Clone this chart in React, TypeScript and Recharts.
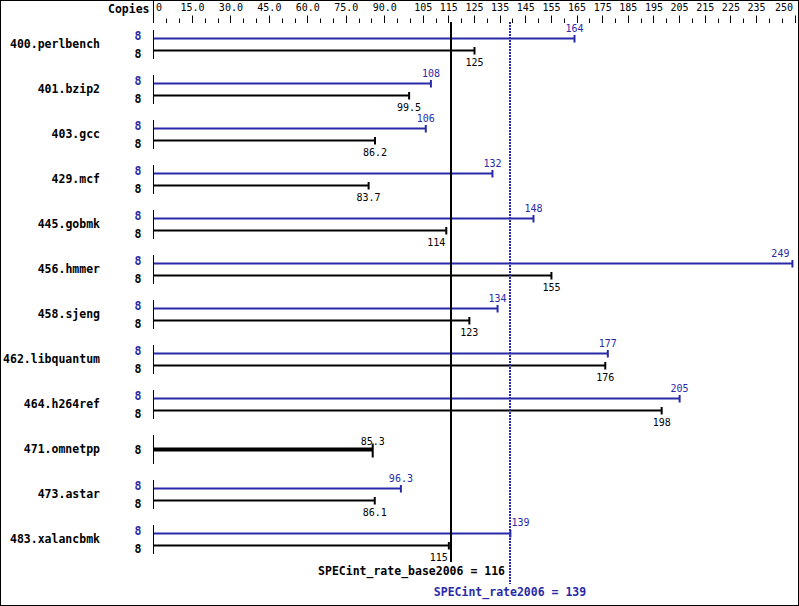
import { Bar, ComposedChart, ReferenceLine, XAxis, YAxis } from "recharts"

const benchmarks = [
  "400.perlbench",
  "401.bzip2",
  "403.gcc",
  "429.mcf",
  "445.gobmk",
  "456.hmmer",
  "458.sjeng",
  "462.libquantum",
  "464.h264ref",
  "471.omnetpp",
  "473.astar",
  "483.xalancbmk",
]
const peakRates = [164, 108, 106, 132, 148, 249, 134, 177, 205, 85.3, 96.3, 139]
const baseRates = [125, 99.5, 86.2, 83.7, 114, 155, 123, 176, 198, 85.3, 86.1, 115]
const peakCopies = [8, 8, 8, 8, 8, 8, 8, 8, 8, 8, 8, 8]
const baseCopies = [8, 8, 8, 8, 8, 8, 8, 8, 8, 8, 8, 8]
const labeledTicks = [0, 15, 30, 45, 60, 75, 90, 105, 115, 125, 135, 145, 155, 165, 175, 185, 195, 205, 215, 225, 235, 250]
const peakMean = 139
const baseMean = 116
const axisMax = 250

const BLUE = "#2a2aa8"
const MONO = "'DejaVu Sans Mono', monospace"

const allTicks = Array.from({ length: 51 }, (_, i) => i * 5)

const data = benchmarks.map((name, i) => ({
  name,
  peak: peakRates[i],
  base: baseRates[i],
  peakCopies: peakCopies[i],
  baseCopies: baseCopies[i],
}))

const fmt = (v: number) => (v >= 100 ? String(Math.round(v)) : v.toFixed(1))
const tickFmt = (v: number) => (v === 0 ? "0" : v < 100 ? v.toFixed(1) : String(v))

function TopTick(props: any) {
  const { x, payload, index } = props
  const v = payload.value as number
  const px = Math.floor(x) + 0.5
  const labeled = labeledTicks.includes(v)
  const last = index === allTicks.length - 1
  return (
    <g>
      {v === 0 ? (
        <>
          <line x1={px - 1} x2={px - 1} y1={0} y2={23} stroke="#000" />
          <text x={px - 5} y={9} dy="0.35em" textAnchor="end" fontFamily={MONO} fontSize={11.5} fontWeight="bold" fill="#000">
            Copies
          </text>
        </>
      ) : (
        <line x1={px} x2={px} y1={labeled ? 15.5 : 18.5} y2={23} stroke="#000" />
      )}
      {labeled && (
        <text
          x={v === 0 ? x + 2 : last ? x - 2 : x}
          y={7}
          dy="0.35em"
          textAnchor={v === 0 ? "start" : last ? "end" : "middle"}
          fontFamily={MONO}
          fontSize={10}
          fill="#000"
        >
          {tickFmt(v)}
        </text>
      )}
    </g>
  )
}

function NameTick(props: any) {
  const { y, payload } = props
  return (
    <text x={100} y={y} dy="0.35em" textAnchor="end" fontFamily={MONO} fontSize={11.5} fontWeight="bold" fill="#000">
      {payload.value}
    </text>
  )
}

function PeakShape(props: any) {
  const { x, y, width, height, payload } = props
  if (payload.peak === payload.base) return <g />
  const ly = y + height / 2
  const end = x + width
  const nearMean = Math.abs(payload.peak - peakMean) < 3
  const nearEdge = payload.peak > axisMax - 5
  const anchor = nearMean ? "start" : nearEdge ? "end" : "middle"
  const lx = nearMean ? end + 1 : nearEdge ? end - 3 : end
  return (
    <g>
      <line x1={x} x2={end} y1={ly} y2={ly} stroke={BLUE} strokeWidth={2} />
      <line x1={end} x2={end} y1={ly - 3.5} y2={ly + 4} stroke={BLUE} strokeWidth={2} />
      <text x={lx} y={ly - (nearMean ? 11 : 10.5)} dy="0.35em" textAnchor={anchor} fontFamily={MONO} fontSize={10} fill={BLUE}>
        {fmt(payload.peak)}
      </text>
      <text x={x - 16} y={ly - 3} dy="0.35em" textAnchor="middle" fontFamily={MONO} fontSize={11.5} fontWeight="bold" fill={BLUE}>
        {payload.peakCopies}
      </text>
    </g>
  )
}

function BaseShape(props: any) {
  const { x, y, width, height, payload } = props
  const end = x + width
  const single = payload.peak === payload.base
  const startLine = <line x1={x - 0.5} x2={x - 0.5} y1={y - 14.5} y2={y + 14.5} stroke="#000" />
  if (single) {
    return (
      <g>
        {startLine}
        <line x1={x} x2={end} y1={y} y2={y} stroke="#000" strokeWidth={4} />
        <line x1={end} x2={end} y1={y - 6} y2={y + 8} stroke="#000" strokeWidth={2} />
        <text x={end} y={y - 8.5} dy="0.35em" textAnchor="middle" fontFamily={MONO} fontSize={10} fill="#000">
          {fmt(payload.base)}
        </text>
        <text x={x - 16} y={y} dy="0.35em" textAnchor="middle" fontFamily={MONO} fontSize={11.5} fontWeight="bold" fill="#000">
          {payload.baseCopies}
        </text>
      </g>
    )
  }
  const ly = y + height / 2
  const nearMean = Math.abs(payload.base - baseMean) < 3
  return (
    <g>
      {startLine}
      <line x1={x} x2={end} y1={ly} y2={ly} stroke="#000" strokeWidth={2} />
      <line x1={end} x2={end} y1={ly - 3.5} y2={ly + 4} stroke="#000" strokeWidth={2} />
      <text
        x={nearMean ? end - 1 : end}
        y={ly + 11.5}
        dy="0.35em"
        textAnchor={nearMean ? "end" : "middle"}
        fontFamily={MONO}
        fontSize={10}
        fill="#000"
      >
        {fmt(payload.base)}
      </text>
      <text x={x - 16} y={ly + 3} dy="0.35em" textAnchor="middle" fontFamily={MONO} fontSize={11.5} fontWeight="bold" fill="#000">
        {payload.baseCopies}
      </text>
    </g>
  )
}

function BaseMeanLine(props: any) {
  const { x1, y1, y2 } = props
  const top = Math.min(y1, y2)
  const bottom = Math.max(y1, y2)
  const x = Math.round(x1)
  return (
    <g>
      <line x1={x} x2={x} y1={top + 0.5} y2={bottom + 0.5} stroke="#000" strokeWidth={2} />
      <text x={x + 54} y={bottom + 9} dy="0.35em" textAnchor="end" fontFamily={MONO} fontSize={11.5} fontWeight="bold" fill="#000">
        {`SPECint_rate_base2006 = ${baseMean}`}
      </text>
    </g>
  )
}

function PeakMeanLine(props: any) {
  const { x1, y1, y2 } = props
  const top = Math.min(y1, y2)
  const bottom = Math.max(y1, y2)
  const x = Math.round(x1)
  return (
    <g>
      <line x1={x} x2={x} y1={top + 0.5} y2={bottom + 22.5} stroke={BLUE} strokeWidth={2} strokeDasharray="2 1" />
      <text x={x} y={bottom + 30} dy="0.35em" textAnchor="middle" fontFamily={MONO} fontSize={11.5} fontWeight="bold" fill={BLUE}>
        {`SPECint_rate2006 = ${peakMean}`}
      </text>
    </g>
  )
}

export default function App() {
  return (
    <div style={{ position: "absolute", left: 0, top: 0, width: 799, height: 606, background: "#fff" }}>
      <ComposedChart
        width={799}
        height={606}
        data={data}
        layout="vertical"
        margin={{ top: 0.5, right: 4, bottom: 44.5, left: 0 }}
        barGap={0}
      >
        <XAxis
          type="number"
          orientation="top"
          domain={[0, axisMax]}
          ticks={allTicks}
          interval={0}
          height={21}
          axisLine={false}
          tickLine={false}
          tick={<TopTick />}
        />
        <YAxis type="category" dataKey="name" width={154} axisLine={false} tickLine={false} interval={0} tick={<NameTick />} />
        <Bar dataKey="peak" barSize={12} fill={BLUE} shape={<PeakShape />} isAnimationActive={false} />
        <Bar dataKey="base" barSize={12} fill="#000" shape={<BaseShape />} isAnimationActive={false} />
        <ReferenceLine x={baseMean} shape={<BaseMeanLine />} />
        <ReferenceLine x={peakMean} shape={<PeakMeanLine />} />
      </ComposedChart>
      <div
        style={{
          position: "absolute",
          inset: 0,
          border: "1px solid #000",
          boxSizing: "border-box",
          pointerEvents: "none",
        }}
      />
    </div>
  )
}
